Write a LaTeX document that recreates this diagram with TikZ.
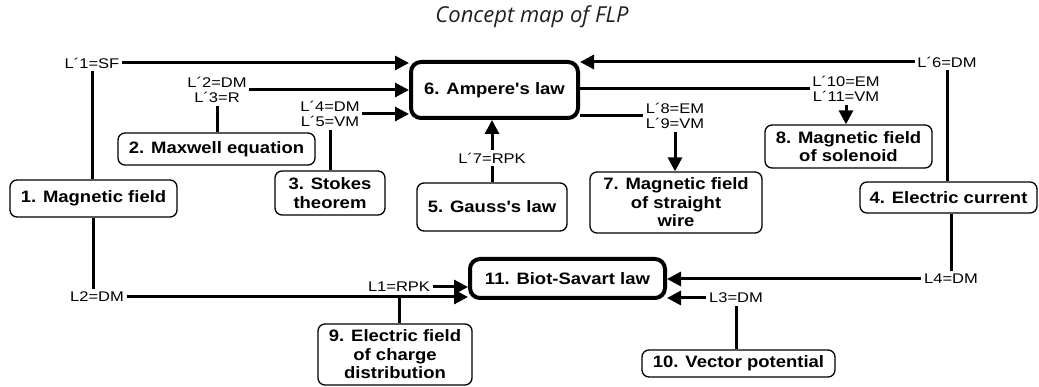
\documentclass[tikz,border=0pt]{standalone}
\usepackage{fontspec}
\setmainfont{Liberation Sans}
\newfontfamily\boxfont[FakeStretch=1.12]{Liberation Sans}
\newfontfamily\lblfont[FakeStretch=1.18]{Liberation Sans}
\newfontfamily\titlefont{Open Sans}
\usetikzlibrary{arrows.meta}
\definecolor{titlegray}{HTML}{231F20}
\tikzset{
  box/.style={draw, line width=1.3pt, rounded corners=7pt, align=center, inner sep=0pt,
    font=\boxfont\bfseries\fontsize{16.5}{18.5}\selectfont},
  bigbox/.style={box, line width=4pt, rounded corners=10pt},
  lbl/.style={font=\lblfont\fontsize{14}{15.5}\selectfont, align=center, inner sep=2.5pt},
  con/.style={line width=3pt},
  arr/.style={con, -{Triangle[length=14pt,width=14pt]}},
}
\begin{document}
\begin{tikzpicture}[x=1pt,y=-1pt]
\useasboundingbox (0,0) rectangle (1039,387);
\node[font=\titlefont\itshape\fontsize{22}{26}\selectfont, text=titlegray] (title) at (532,17) {Concept map of FLP};
% boxes
\node[bigbox, minimum width=167pt, minimum height=56pt] (n6) at (494.5,90) {6. Ampere's law};
\node[bigbox, minimum width=195pt, minimum height=39pt] (n11) at (567.5,278.5) {11. Biot-Savart law};
\node[box, minimum width=167pt, minimum height=37pt] (n1) at (93.5,198.5) {1. Magnetic field};
\node[box, minimum width=197pt, minimum height=32pt] (n2) at (216.5,149) {2. Maxwell equation};
\node[box, minimum width=110pt, minimum height=44pt] (n3) at (330,193) {3. Stokes\\theorem};
\node[box, minimum width=177pt, minimum height=31pt] (n4) at (948.5,197.5) {4. Electric current};
\node[box, minimum width=150pt, minimum height=48pt] (n5) at (492,207) {5. Gauss's law};
\node[box, minimum width=172pt, minimum height=61pt] (n7) at (676,202.5) {7. Magnetic field\\of straight\\wire};
\node[box, minimum width=167pt, minimum height=43pt] (n8) at (848.5,146.5) {8. Magnetic field\\of solenoid};
\node[box, minimum width=154pt, minimum height=61pt] (n9) at (395,354.5) {9. Electric field\\of charge\\distribution};
\node[box, minimum width=193pt, minimum height=27pt] (n10) at (738.5,363.5) {10. Vector potential};
% labels
\node[lbl] (l1) at (92,63) {L´1=SF};
\node[lbl] (l2) at (217,90) {L´2=DM\\L´3=R};
\node[lbl] (l4) at (330,114) {L´4=DM\\L´5=VM};
\node[lbl] (l6) at (947,62) {L´6=DM};
\node[lbl] (l7) at (492,158) {L´7=RPK};
\node[lbl] (l8) at (675,116) {L´8=EM\\L´9=VM};
\node[lbl] (l10) at (846,89) {L´10=EM\\L´11=VM};
\node[lbl] (L1) at (399,287) {L1=RPK};
\node[lbl] (L2) at (97,297) {L2=DM};
\node[lbl] (L3) at (736,298) {L3=DM};
\node[lbl] (L4) at (951,279) {L4=DM};
% connectors
\draw[arr] (l1.east) -- (l1.east -| n6.west);
\draw[con] (l1.south) -- (l1.south |- n1.north);
\draw[arr] (l2.east) -- (l2.east -| n6.west);
\draw[con] (l2.south) -- (l2.south |- n2.north);
\draw[arr] (l4.east) -- (l4.east -| n6.west);
\draw[con] (l4.south) -- (l4.south |- n3.north);
\draw[arr] (l6.west) -- (l6.west -| n6.east);
\draw[con] (l6.south) -- (l6.south |- n4.north);
\draw[arr] (l7.north) -- (l7.north |- n6.south);
\draw[con] (l7.south) -- (l7.south |- n5.north);
\draw[con] (l8.west -| n6.east) -- (l8.west);
\draw[arr] (l8.south) -- (l8.south |- n7.north);
\draw[con] (l10.west -| n6.east) -- (l10.west);
\draw[arr] (l10.south) -- (l10.south |- n8.north);
\draw[arr] (L1.east) -- (L1.east -| n11.west);
\draw[con] (L1.south) -- (L1.south |- n9.north);
\draw[con] (n1.south) -- (n1.south |- L2.north);
\draw[arr] (L2.east) -- (L2.east -| n11.west);
\draw[arr] (L3.west) -- (L3.west -| n11.east);
\draw[con] (L3.south) -- (L3.south |- n10.north);
\draw[arr] (L4.west) -- (L4.west -| n11.east);
\draw[con] (L4.north) -- (L4.north |- n4.south);
\end{tikzpicture}
\end{document}
